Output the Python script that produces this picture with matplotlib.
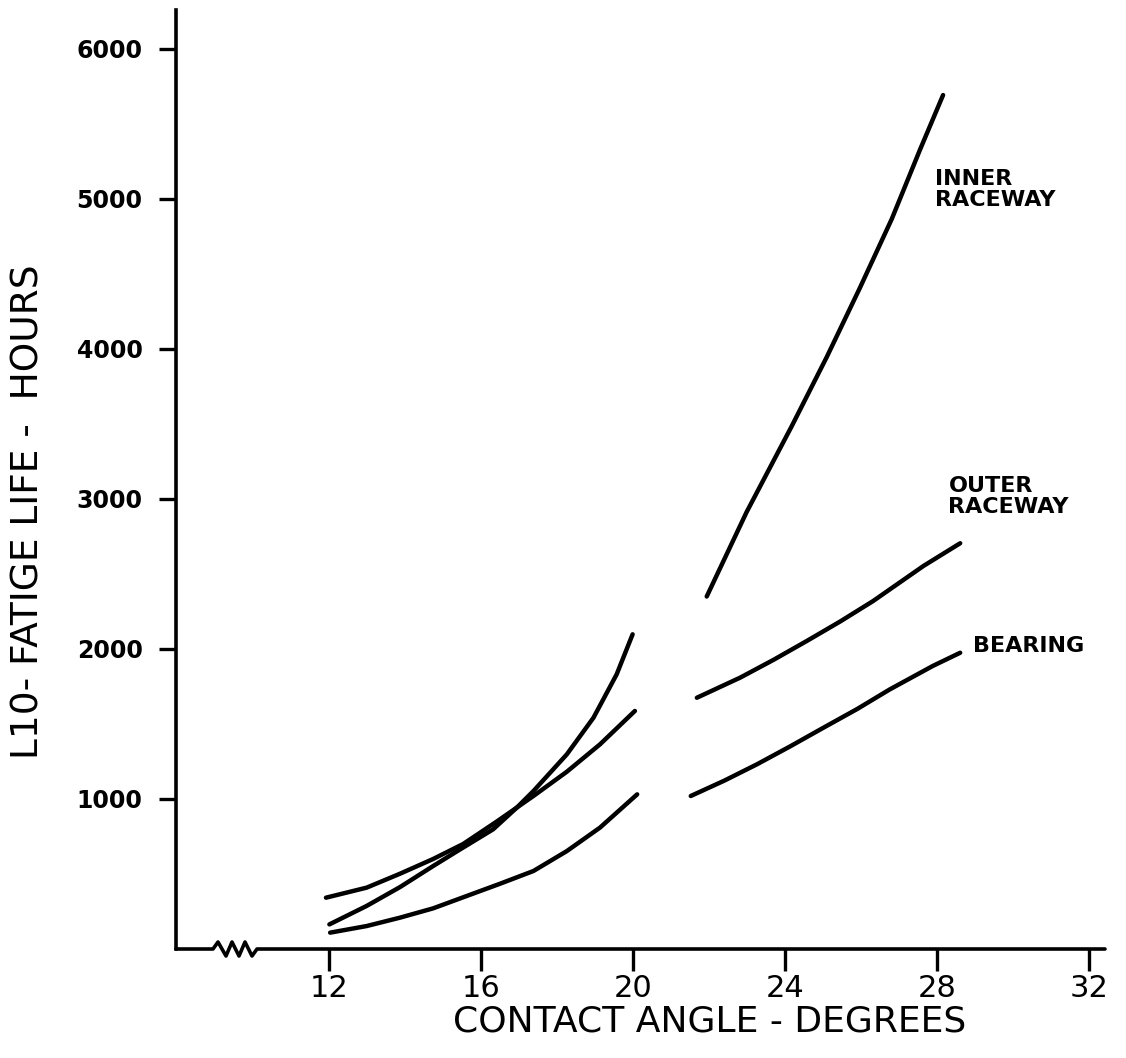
import matplotlib
matplotlib.use("Agg")
import matplotlib.pyplot as plt

# ---- data ----
inner_left_x = [12.01, 12.99, 13.87, 14.74, 15.45, 16.32, 16.94, 17.38, 18.26, 18.96, 19.57, 19.99]
inner_left_y = [164, 287, 413, 553, 664, 798, 942, 1053, 1298, 1542, 1831, 2098]
inner_right_x = [21.94, 22.99, 24.18, 25.10, 25.97, 26.81, 27.55, 28.16]
inner_right_y = [2350, 2913, 3487, 3947, 4407, 4867, 5327, 5693]

outer_left_x = [11.92, 12.99, 13.87, 14.74, 15.53, 16.41, 17.38, 18.26, 19.13, 20.05]
outer_left_y = [342, 409, 502, 600, 700, 849, 1020, 1182, 1364, 1587]
outer_right_x = [21.68, 22.82, 23.7, 24.57, 25.45, 26.32, 27.64, 28.61]
outer_right_y = [1675, 1809, 1928, 2053, 2183, 2320, 2553, 2705]

bearing_left_x = [12.03, 12.99, 13.87, 14.74, 15.62, 16.5, 17.38, 18.26, 19.13, 20.11]
bearing_left_y = [109, 153, 209, 271, 353, 435, 520, 653, 809, 1031]
bearing_right_x = [21.52, 22.4, 23.26, 24.13, 25.01, 25.9, 26.76, 27.89, 28.61]
bearing_right_y = [1020, 1122, 1231, 1350, 1475, 1600, 1731, 1887, 1975]

x_ticks = [12, 16, 20, 24, 28, 32]
y_ticks = [1000, 2000, 3000, 4000, 5000, 6000]

labels = ["INNER\nRACEWAY", "OUTER\nRACEWAY", "BEARING"]
label_x = [27.95, 28.3, 28.95]
label_y = [5200, 3150, 2020]

x_title = "CONTACT ANGLE - DEGREES"
y_title = "L10- FATIGE LIFE -  HOURS"

# ---- figure ----
fig = plt.figure(figsize=(11.26, 10.58), dpi=100)
ax = fig.add_axes([176/1126, 1 - 949/1058, (1105-176)/1126, (949-10)/1058])
ax.set_xlim(12 - (329-176)/38.0, 12 + (1105-329)/38.0)
ax.set_ylim(0, (949-10)/0.15)

lw = 3.2
for xs, ys in [(inner_left_x, inner_left_y), (inner_right_x, inner_right_y),
               (outer_left_x, outer_left_y), (outer_right_x, outer_right_y),
               (bearing_left_x, bearing_left_y), (bearing_right_x, bearing_right_y)]:
    ax.plot(xs, ys, color="black", lw=lw, solid_capstyle="round",
            solid_joinstyle="round")

for s in ["top", "right", "bottom"]:
    ax.spines[s].set_visible(False)
ax.spines["left"].set_linewidth(2.6)

# bottom axis line with break (zigzag) symbol
W = 1105 - 176
H = 949 - 10
px = [176, 213, 218, 226, 232, 239, 245, 252, 257, 1105]
py = [0, 0, 7, -7, 7, -7, 7, -7, 0, 0]
ax.plot([(p - 176) / W for p in px], [q / H for q in py], color="black",
        lw=2.6, transform=ax.transAxes, clip_on=False,
        solid_joinstyle="round", solid_capstyle="round")

ax.set_xticks(x_ticks)
ax.set_xticklabels([str(t) for t in x_ticks], fontsize=22)
ax.set_yticks(y_ticks)
ax.set_yticklabels([str(t) for t in y_ticks], fontsize=17, fontweight="bold")
ax.tick_params(axis="x", direction="out", length=16, width=2.4, pad=2)
ax.tick_params(axis="y", direction="out", length=12, width=2.4, pad=12)

ax.set_xlabel(x_title, fontsize=26)
ax.xaxis.set_label_coords((710 - 176) / W, (949 - 1005) / H)
ax.set_ylabel(y_title, fontsize=27)
ax.yaxis.set_label_coords((46 - 176) / W, (949 - 512) / H)

for t, xx, yy in zip(labels, label_x, label_y):
    ax.text(xx, yy, t, fontsize=16, fontweight="bold", ha="left",
            va="top" if "\n" in t else "center", linespacing=1.05)

fig.savefig("out.png", dpi=100, facecolor="white")
